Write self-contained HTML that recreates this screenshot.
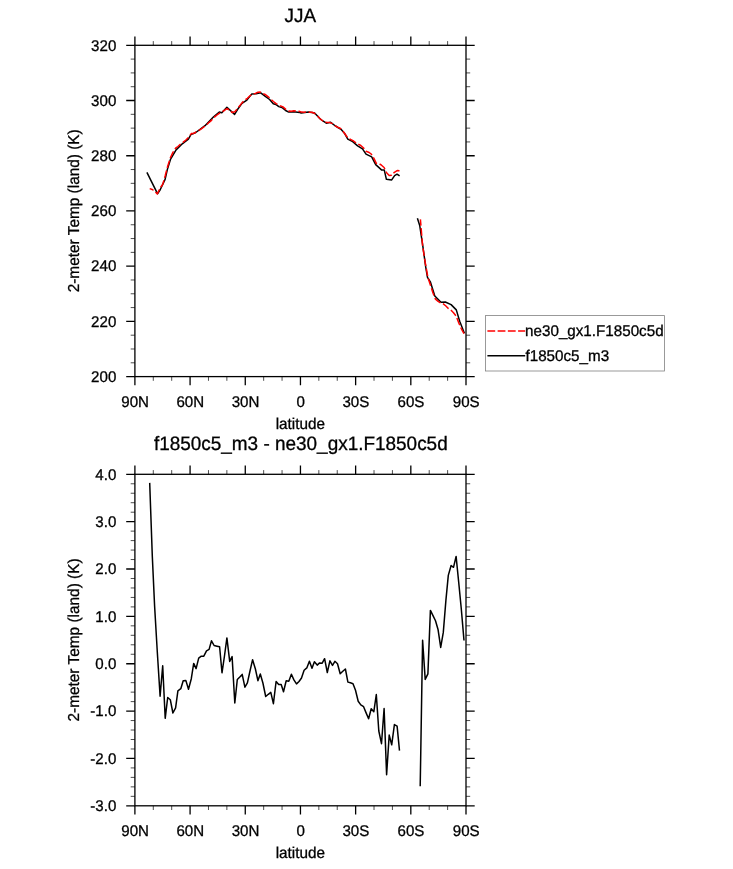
<!DOCTYPE html>
<html><head><meta charset="utf-8"><title>JJA</title>
<style>
html,body{margin:0;padding:0;background:#fff;}
body{width:733px;height:869px;overflow:hidden;}
svg{display:block;will-change:transform;}
text{font-family:"Liberation Sans",sans-serif;fill:#000;stroke:#000;stroke-width:0.3px;text-rendering:geometricPrecision;}
</style></head><body>
<svg width="733" height="869" viewBox="0 0 733 869">
<rect width="733" height="869" fill="#fff"/>
<rect x="134.9" y="45.3" width="331.1" height="331.3" fill="none" stroke="#000" stroke-width="1.3"/>
<path d="M134.90 45.3v-8.7M134.90 376.6v8.7M190.08 45.3v-8.7M190.08 376.6v8.7M245.27 45.3v-8.7M245.27 376.6v8.7M300.45 45.3v-8.7M300.45 376.6v8.7M355.63 45.3v-8.7M355.63 376.6v8.7M410.82 45.3v-8.7M410.82 376.6v8.7M466.00 45.3v-8.7M466.00 376.6v8.7M134.9 376.60h-8.7M466.0 376.60h8.7M134.9 321.38h-8.7M466.0 321.38h8.7M134.9 266.17h-8.7M466.0 266.17h8.7M134.9 210.95h-8.7M466.0 210.95h8.7M134.9 155.73h-8.7M466.0 155.73h8.7M134.9 100.52h-8.7M466.0 100.52h8.7M134.9 45.30h-8.7M466.0 45.30h8.7" stroke="#000" stroke-width="1.3" fill="none"/>
<path d="M153.29 45.3v-4.2M153.29 376.6v4.2M171.69 45.3v-4.2M171.69 376.6v4.2M208.48 45.3v-4.2M208.48 376.6v4.2M226.87 45.3v-4.2M226.87 376.6v4.2M263.66 45.3v-4.2M263.66 376.6v4.2M282.06 45.3v-4.2M282.06 376.6v4.2M318.84 45.3v-4.2M318.84 376.6v4.2M337.24 45.3v-4.2M337.24 376.6v4.2M374.03 45.3v-4.2M374.03 376.6v4.2M392.42 45.3v-4.2M392.42 376.6v4.2M429.21 45.3v-4.2M429.21 376.6v4.2M447.61 45.3v-4.2M447.61 376.6v4.2M134.9 362.80h-4.2M466.0 362.80h4.2M134.9 348.99h-4.2M466.0 348.99h4.2M134.9 335.19h-4.2M466.0 335.19h4.2M134.9 307.58h-4.2M466.0 307.58h4.2M134.9 293.78h-4.2M466.0 293.78h4.2M134.9 279.97h-4.2M466.0 279.97h4.2M134.9 252.36h-4.2M466.0 252.36h4.2M134.9 238.56h-4.2M466.0 238.56h4.2M134.9 224.75h-4.2M466.0 224.75h4.2M134.9 197.15h-4.2M466.0 197.15h4.2M134.9 183.34h-4.2M466.0 183.34h4.2M134.9 169.54h-4.2M466.0 169.54h4.2M134.9 141.93h-4.2M466.0 141.93h4.2M134.9 128.13h-4.2M466.0 128.13h4.2M134.9 114.32h-4.2M466.0 114.32h4.2M134.9 86.71h-4.2M466.0 86.71h4.2M134.9 72.91h-4.2M466.0 72.91h4.2M134.9 59.10h-4.2M466.0 59.10h4.2" stroke="#000" stroke-width="0.7" fill="none"/>
<rect x="134.9" y="474.3" width="331.1" height="331.5" fill="none" stroke="#000" stroke-width="1.3"/>
<path d="M134.90 474.3v-8.7M134.90 805.8v8.7M190.08 474.3v-8.7M190.08 805.8v8.7M245.27 474.3v-8.7M245.27 805.8v8.7M300.45 474.3v-8.7M300.45 805.8v8.7M355.63 474.3v-8.7M355.63 805.8v8.7M410.82 474.3v-8.7M410.82 805.8v8.7M466.00 474.3v-8.7M466.00 805.8v8.7M134.9 805.80h-8.7M466.0 805.80h8.7M134.9 758.44h-8.7M466.0 758.44h8.7M134.9 711.09h-8.7M466.0 711.09h8.7M134.9 663.73h-8.7M466.0 663.73h8.7M134.9 616.37h-8.7M466.0 616.37h8.7M134.9 569.01h-8.7M466.0 569.01h8.7M134.9 521.66h-8.7M466.0 521.66h8.7M134.9 474.30h-8.7M466.0 474.30h8.7" stroke="#000" stroke-width="1.3" fill="none"/>
<path d="M153.29 474.3v-4.2M153.29 805.8v4.2M171.69 474.3v-4.2M171.69 805.8v4.2M208.48 474.3v-4.2M208.48 805.8v4.2M226.87 474.3v-4.2M226.87 805.8v4.2M263.66 474.3v-4.2M263.66 805.8v4.2M282.06 474.3v-4.2M282.06 805.8v4.2M318.84 474.3v-4.2M318.84 805.8v4.2M337.24 474.3v-4.2M337.24 805.8v4.2M374.03 474.3v-4.2M374.03 805.8v4.2M392.42 474.3v-4.2M392.42 805.8v4.2M429.21 474.3v-4.2M429.21 805.8v4.2M447.61 474.3v-4.2M447.61 805.8v4.2M134.9 796.33h-4.2M466.0 796.33h4.2M134.9 786.86h-4.2M466.0 786.86h4.2M134.9 777.39h-4.2M466.0 777.39h4.2M134.9 767.91h-4.2M466.0 767.91h4.2M134.9 748.97h-4.2M466.0 748.97h4.2M134.9 739.50h-4.2M466.0 739.50h4.2M134.9 730.03h-4.2M466.0 730.03h4.2M134.9 720.56h-4.2M466.0 720.56h4.2M134.9 701.61h-4.2M466.0 701.61h4.2M134.9 692.14h-4.2M466.0 692.14h4.2M134.9 682.67h-4.2M466.0 682.67h4.2M134.9 673.20h-4.2M466.0 673.20h4.2M134.9 654.26h-4.2M466.0 654.26h4.2M134.9 644.79h-4.2M466.0 644.79h4.2M134.9 635.31h-4.2M466.0 635.31h4.2M134.9 625.84h-4.2M466.0 625.84h4.2M134.9 606.90h-4.2M466.0 606.90h4.2M134.9 597.43h-4.2M466.0 597.43h4.2M134.9 587.96h-4.2M466.0 587.96h4.2M134.9 578.49h-4.2M466.0 578.49h4.2M134.9 559.54h-4.2M466.0 559.54h4.2M134.9 550.07h-4.2M466.0 550.07h4.2M134.9 540.60h-4.2M466.0 540.60h4.2M134.9 531.13h-4.2M466.0 531.13h4.2M134.9 512.19h-4.2M466.0 512.19h4.2M134.9 502.71h-4.2M466.0 502.71h4.2M134.9 493.24h-4.2M466.0 493.24h4.2M134.9 483.77h-4.2M466.0 483.77h4.2" stroke="#000" stroke-width="0.7" fill="none"/>
<text transform="translate(135.1,406.8) scale(1,1.025)" font-size="15.1" text-anchor="middle">90N</text>
<text transform="translate(190.3,406.8) scale(1,1.025)" font-size="15.1" text-anchor="middle">60N</text>
<text transform="translate(245.5,406.8) scale(1,1.025)" font-size="15.1" text-anchor="middle">30N</text>
<text transform="translate(300.7,406.8) scale(1,1.025)" font-size="15.1" text-anchor="middle">0</text>
<text transform="translate(355.8,406.8) scale(1,1.025)" font-size="15.1" text-anchor="middle">30S</text>
<text transform="translate(411.0,406.8) scale(1,1.025)" font-size="15.1" text-anchor="middle">60S</text>
<text transform="translate(466.2,406.8) scale(1,1.025)" font-size="15.1" text-anchor="middle">90S</text>
<text transform="translate(135.1,836.0) scale(1,1.025)" font-size="15.1" text-anchor="middle">90N</text>
<text transform="translate(190.3,836.0) scale(1,1.025)" font-size="15.1" text-anchor="middle">60N</text>
<text transform="translate(245.5,836.0) scale(1,1.025)" font-size="15.1" text-anchor="middle">30N</text>
<text transform="translate(300.7,836.0) scale(1,1.025)" font-size="15.1" text-anchor="middle">0</text>
<text transform="translate(355.8,836.0) scale(1,1.025)" font-size="15.1" text-anchor="middle">30S</text>
<text transform="translate(411.0,836.0) scale(1,1.025)" font-size="15.1" text-anchor="middle">60S</text>
<text transform="translate(466.2,836.0) scale(1,1.025)" font-size="15.1" text-anchor="middle">90S</text>
<text transform="translate(116.3,381.9) scale(1,1.025)" font-size="15.1" text-anchor="end">200</text>
<text transform="translate(116.3,326.6) scale(1,1.025)" font-size="15.1" text-anchor="end">220</text>
<text transform="translate(116.3,271.4) scale(1,1.025)" font-size="15.1" text-anchor="end">240</text>
<text transform="translate(116.3,216.2) scale(1,1.025)" font-size="15.1" text-anchor="end">260</text>
<text transform="translate(116.3,161.0) scale(1,1.025)" font-size="15.1" text-anchor="end">280</text>
<text transform="translate(116.3,105.8) scale(1,1.025)" font-size="15.1" text-anchor="end">300</text>
<text transform="translate(116.3,50.6) scale(1,1.025)" font-size="15.1" text-anchor="end">320</text>
<text transform="translate(116.3,811.0) scale(1,1.025)" font-size="15.1" text-anchor="end">-3.0</text>
<text transform="translate(116.3,763.7) scale(1,1.025)" font-size="15.1" text-anchor="end">-2.0</text>
<text transform="translate(116.3,716.3) scale(1,1.025)" font-size="15.1" text-anchor="end">-1.0</text>
<text transform="translate(116.3,669.0) scale(1,1.025)" font-size="15.1" text-anchor="end">0.0</text>
<text transform="translate(116.3,621.6) scale(1,1.025)" font-size="15.1" text-anchor="end">1.0</text>
<text transform="translate(116.3,574.3) scale(1,1.025)" font-size="15.1" text-anchor="end">2.0</text>
<text transform="translate(116.3,526.9) scale(1,1.025)" font-size="15.1" text-anchor="end">3.0</text>
<text transform="translate(116.3,479.6) scale(1,1.025)" font-size="15.1" text-anchor="end">4.0</text>
<text transform="translate(300.3,429.1) scale(1,1.025)" font-size="15.3" text-anchor="middle">latitude</text>
<text transform="translate(300.3,858.3) scale(1,1.025)" font-size="15.3" text-anchor="middle">latitude</text>
<text transform="translate(79.0,210.8) rotate(-90) scale(1,1.025)" font-size="15.4" text-anchor="middle">2-meter Temp (land) (K)</text>
<text transform="translate(79.0,640.0) rotate(-90) scale(1,1.025)" font-size="15.4" text-anchor="middle">2-meter Temp (land) (K)</text>
<text transform="translate(300.3,22.4) scale(1,1.025)" font-size="18.9" text-anchor="middle">JJA</text>
<text transform="translate(300.8,449.9) scale(1,1.025)" font-size="18.95" text-anchor="middle">f1850c5_m3 - ne30_gx1.F1850c5d</text>
<g fill="none" stroke-linejoin="round" stroke-linecap="butt" stroke-width="1.5">
<polyline points="146.9,172.4 157.5,193.7 160.2,189.8 165.1,179.4 167.5,168.9 170.6,159.1 176.1,149.9 182.3,143.8 188.4,139.1 190.9,134.6 195.8,132.5 205.0,125.7 213.6,116.8 219.3,112.0 221.8,112.7 226.9,107.2 234.6,114.4 237.7,109.3 242.0,103.4 246.9,100.1 251.8,93.9 256.1,93.7 260.4,92.7 265.3,96.4 269.6,99.5 273.3,103.8 275.8,104.4 278.8,106.6 281.9,107.5 285.6,110.5 288.7,112.1 293.6,111.7 299.7,112.4 301.1,113.0 308.5,111.9 314.6,113.1 320.8,119.5 326.3,123.2 330.6,122.3 335.5,126.0 341.0,129.3 344.7,133.6 347.8,139.1 352.7,141.6 357.6,145.9 362.5,148.9 366.0,154.1 371.7,156.9 375.7,164.6 381.5,169.9 384.3,170.1 386.4,179.3 391.7,179.9 394.6,175.6 397.0,174.2 399.6,175.9" stroke="#000"/>
<polyline points="417.4,218.3 419.7,225.4 422.8,245.9 425.8,267.6 427.5,277.4 430.5,282.2 434.8,296.0 441.0,302.2 445.3,302.0 451.1,304.6 456.3,309.9 459.7,321.3 464.4,333.3" stroke="#000"/>
<polyline points="149.7,188.6 152.3,189.5 154.6,191.2 157.3,194.0 160.1,188.0 162.7,184.4 165.2,175.8 167.7,166.3 170.3,158.0 172.9,152.4 175.6,148.2 177.9,146.5 180.8,143.8 183.2,142.1 185.9,140.0 188.5,137.4 191.3,133.6 193.7,133.4 196.1,132.0 198.7,130.7 201.3,128.9 203.8,127.0 206.5,124.9 209.1,122.3 211.5,120.3 214.1,117.4 217.0,115.0 219.6,113.1 222.0,112.0 224.4,110.3 226.9,108.7 229.7,110.0 232.1,112.5 234.8,111.8 237.3,109.0 239.8,105.6 242.2,102.6 244.9,100.1 247.4,98.3 250.0,95.8 252.6,94.1 255.4,93.4 257.9,92.3 260.3,92.1 262.9,93.5 265.7,94.8 268.3,96.8 270.8,99.2 273.4,101.5 276.1,103.6 278.7,105.3 281.2,106.1 283.5,107.2 286.2,109.8 288.8,111.1 291.4,111.3 293.9,110.8 296.5,110.9 299.0,111.3 301.5,112.1 304.1,112.2 306.8,111.9 309.4,112.2 312.0,112.3 314.4,113.2 317.2,115.7 319.6,118.3 322.2,120.5 324.6,122.3 327.3,122.5 329.9,122.6 332.5,123.6 334.9,125.7 337.5,127.2 340.2,128.2 342.8,131.0 345.4,134.5 347.9,138.1 350.4,139.3 353.0,140.7 355.5,142.5 358.2,144.1 360.8,145.5 363.6,148.0 366.0,151.3 368.6,152.2 371.2,154.0 373.8,158.1 376.3,163.4 378.8,163.5 381.5,165.2 384.1,167.5 386.6,172.8 389.2,175.5 391.7,175.2 394.4,172.3 397.1,170.6 399.5,170.8" stroke="#f00" stroke-dasharray="7.63 2.62" stroke-dashoffset="3.4"/>
<polyline points="420.4,219.4 422.6,245.9 425.2,262.3 427.9,277.5 430.4,285.1 433.0,293.0 435.5,299.2 438.1,301.3 440.7,302.9 443.3,303.9 445.9,306.0 448.3,308.5 451.1,310.3 453.5,312.7 456.1,316.0 458.7,322.7 461.3,328.6 464.0,333.6" stroke="#f00" stroke-dasharray="7.6 2.6" stroke-dashoffset="1.4"/>
<polyline points="149.7,482.9 152.3,556.0 154.6,606.0 157.3,652.0 160.1,696.3 162.7,665.8 165.2,718.3 167.7,697.5 170.3,699.7 172.9,713.0 175.6,707.8 177.9,690.9 180.8,688.7 183.2,680.8 185.9,680.6 188.5,689.2 191.3,678.7 193.7,663.4 196.1,668.6 198.7,658.1 201.3,656.2 203.8,656.2 206.5,650.8 209.1,649.4 211.5,640.8 214.1,645.5 217.0,646.2 219.6,646.8 222.0,672.8 224.4,656.5 226.9,637.9 229.7,661.4 232.1,656.6 234.8,703.0 237.3,679.5 239.8,677.0 242.2,674.4 244.9,687.2 247.4,682.9 250.0,671.0 252.6,659.7 255.4,669.0 257.9,680.7 260.3,674.0 262.9,683.0 265.7,696.5 268.3,694.3 270.8,692.4 273.4,703.7 276.1,681.5 278.7,684.6 281.2,684.6 283.5,691.7 286.2,680.8 288.8,681.2 291.4,674.3 293.9,679.9 296.5,683.9 299.0,681.5 301.5,678.0 304.1,670.3 306.8,667.9 309.4,661.3 312.0,668.2 314.4,661.7 317.2,665.1 319.6,662.9 322.2,663.2 324.6,658.7 327.3,672.5 329.9,660.8 332.5,665.4 334.9,661.3 337.5,663.7 340.2,673.7 342.8,671.3 345.4,669.0 347.9,682.1 350.4,682.8 353.0,683.7 355.5,690.3 358.2,701.3 360.8,704.9 363.6,706.7 366.0,712.6 368.6,718.7 371.2,708.7 373.8,711.8 376.3,694.5 378.8,731.0 381.5,743.7 384.1,708.5 386.6,774.8 389.2,735.1 391.7,744.8 394.4,724.6 397.1,726.1 399.5,750.6" stroke="#000"/>
<polyline points="420.2,786.3 422.6,640.3 425.2,679.4 427.9,673.8 430.4,610.4 433.0,615.6 435.5,620.8 438.1,629.8 440.7,647.4 443.3,632.4 445.9,600.4 448.3,575.4 451.1,565.5 453.5,567.3 456.1,556.4 458.7,582.3 461.3,609.0 464.0,640.5" stroke="#000"/>
</g>
<rect x="485.4" y="315.6" width="179.2" height="55.4" fill="#fff" stroke="#808080" stroke-width="0.8"/>
<path d="M487.4 330.9H525.2" stroke="#f00" stroke-width="1.5" stroke-dasharray="7.8 2.43" fill="none"/>
<path d="M487.4 355.7H525.2" stroke="#000" stroke-width="1.5" fill="none"/>
<text transform="translate(525.1,335.6) scale(1,1.025)" font-size="15.2" text-anchor="start">ne30_gx1.F1850c5d</text>
<text transform="translate(525.5,360.5) scale(1,1.025)" font-size="15.2" text-anchor="start">f1850c5_m3</text>
</svg>
</body></html>
